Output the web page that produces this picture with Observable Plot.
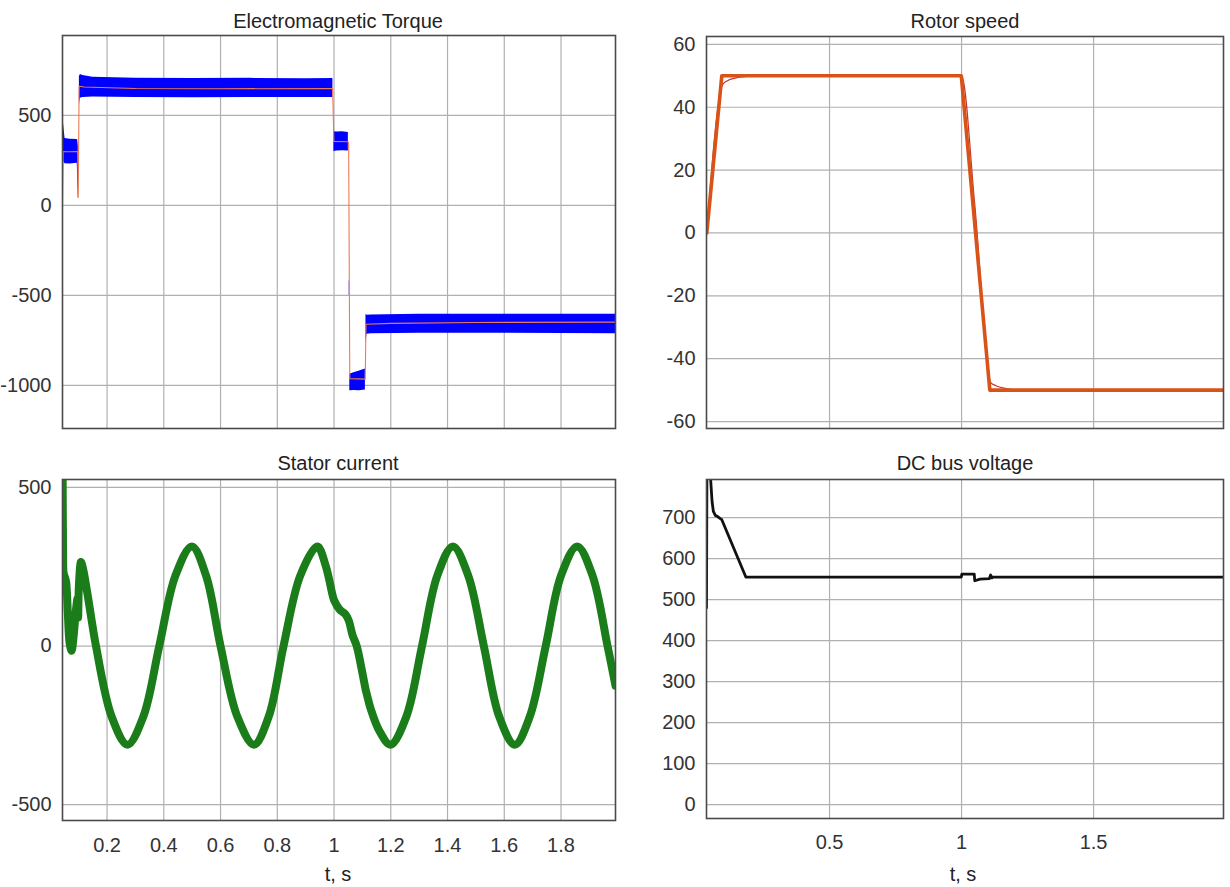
<!DOCTYPE html>
<html><head><meta charset="utf-8">
<script src="https://cdn.jsdelivr.net/npm/d3@7"></script>
<script src="https://cdn.jsdelivr.net/npm/@observablehq/plot@0.6"></script>
<style>
body{margin:0;background:#fff;}
#root{position:relative;width:1230px;height:887px;overflow:hidden;background:#fff;font-family:"Liberation Sans",Arial,Helvetica,sans-serif;color:#262626;}
.lbl{position:absolute;transform:translate(-50%,-50%);white-space:nowrap;font-size:20px;line-height:1.15;color:#222;}
.panel{position:absolute;}
.panel svg{display:block;}
</style></head><body><div id="root"></div>
<script>
// ---------------- data ----------------
// Electromagnetic torque: PWM ripple envelope (null = gap) and mean value
const torqueBandT  = [0.043,0.0433,0.046,0.052,0.070,0.095,0.0965,0.0985,0.0995,0.100,
                      0.1025,0.106,0.115,0.15,0.3,0.5,0.7,0.9,0.996,0.997,
                      0.9995,1.01,1.03,1.0505,1.051,
                      1.0528,1.0538,1.054,
                      1.0555,1.07,1.09,1.1105,1.1115,
                      1.1125,1.116,1.13,1.3,1.6,1.992];
const torqueBandLo = [0,0,245,232,230,235,150,40,40,null,
                      560,595,600,602,600,598,600,600,600,null,
                      300,302,304,303,null,
                      -500,-500,null,
                      -1030,-1028,-1030,-1025,null,
                      -775,-715,-712,-710,-710,-712];
const torqueBandHi = [10,480,465,372,368,366,362,330,120,null,
                      715,728,722,712,706,705,706,704,705,null,
                      410,408,410,405,null,
                      -420,-420,null,
                      -938,-930,-920,-908,null,
                      -605,-610,-608,-604,-605,-604];
const torqueMeanT = [0.043,0.0455,0.06,0.097,0.0985,0.1015,0.12,0.3,0.6,0.995,0.9995,1.05,1.0515,1.0555,1.11,1.1125,1.2,1.5,1.992];
const torqueMean  = [0,300,298,300,45,662,658,650,648,650,356,354,350,-962,-965,-660,-655,-650,-648];

// Rotor speed: reference (thick) and measured (thin)
const speedRefT = [0.035,0.092,0.999,1.107,1.995];
const speedRef  = [0,50,50,-50,-50];
const speedActT = [0.035,0.094,0.11,0.15,0.2,0.24,1.0,1.05,1.11,1.13,1.17,1.21,1.995];
const speedAct  = [0,47,48.3,49.4,49.9,50,50,9,-47.5,-48.6,-49.5,-50,-50];

// Stator current (centre of the ripple band)
const currentT = [0.043,0.0435,0.045,0.047,0.052,0.056,0.062,0.068,0.075,0.082,0.09,0.096,0.098,0.100,0.105,0.108,0.115,0.13,0.145,0.161,
                  0.216,0.272,0.328,0.384,0.441,0.499,0.549,0.600,0.659,0.718,0.770,0.822,0.881,0.941,
                  0.97,0.995,1.0,1.02,1.04,1.052,1.065,1.08,1.10,1.112,1.115,1.13,1.16,1.199,
                  1.255,1.31,1.364,1.419,1.473,1.528,1.582,1.637,1.69,1.746,1.80,1.857,1.911,1.964,1.992];
const current  = [250,540,300,230,215,200,100,10,-15,30,110,150,90,170,250,265,245,170,85,0,
                  -222,-311,-222,0,222,314,222,0,-222,-311,-222,0,222,314,
                  255,160,145,115,100,80,35,0,-85,-140,-150,-200,-268,-311,
                  -222,0,222,314,222,0,-222,-311,-222,0,222,314,222,0,-125];

// DC bus voltage
const dcT = [0.034,0.036,0.045,0.050,0.055,0.060,0.068,0.075,0.085,0.092,0.183,0.5,0.999,1.001,1.048,1.050,1.07,1.105,1.11,1.115,1.12,1.995];
const dcV = [480,900,850,790,740,715,705,703,698,695,555,555,555,562,562,546,550,551,560,553,555,555];

// tick values
const xTicksFine   = [0.2,0.4,0.6,0.8,1,1.2,1.4,1.6,1.8];
const xTicksCoarse = [0.5,1,1.5];
const torqueTicks  = [-1000,-500,0,500];
const speedTicks   = [-60,-40,-20,0,20,40,60];
const currentTicks = [-500,0,500];
const dcTicks      = [0,100,200,300,400,500,600,700];

// ---------------- drawing ----------------
const FONT = '"Liberation Sans", Arial, Helvetica, sans-serif';
const GRID = "#b0b0b0";
const FRAME = "#4a4a4a";
const TICKC = "#333";
const fmt = d => String(d);
const root = document.getElementById("root");

function label(text, cx, cy) {
  const d = document.createElement("div");
  d.className = "lbl";
  d.textContent = text;
  d.style.left = cx + "px";
  d.style.top = cy + "px";
  root.appendChild(d);
}

function panel(o) {
  const svg = Plot.plot({
    width: o.width, height: o.height,
    marginLeft: o.mL, marginRight: o.mR, marginTop: o.mT, marginBottom: o.mB,
    style: {fontFamily: FONT, fontSize: "20px", color: TICKC, background: "transparent", overflow: "visible"},
    x: {domain: o.xDomain, axis: null},
    y: {domain: o.yDomain, axis: null},
    marks: [
      Plot.gridX(o.xTicks, {stroke: GRID, strokeOpacity: 1, strokeWidth: 1.2}),
      Plot.gridY(o.yTicks, {stroke: GRID, strokeOpacity: 1, strokeWidth: 1.2}),
      ...o.marks,
      Plot.frame({stroke: FRAME, strokeWidth: 1.6}),
      Plot.axisY(o.yTicks, {tickSize: 0, tickPadding: 11, tickFormat: fmt, fontSize: 20, fill: TICKC}),
      o.showX ? Plot.axisX(o.xTicks, {tickSize: 0, tickPadding: o.xPad, tickFormat: fmt, fontSize: 20, fill: TICKC}) : null
    ]
  });
  const wrap = document.createElement("div");
  wrap.className = "panel";
  wrap.style.left = o.left + "px";
  wrap.style.top = o.top + "px";
  wrap.appendChild(svg);
  root.appendChild(wrap);
}

const xDomL = [0.043, 1.992];
const xDomR = [0.034, 1.992];

// Electromagnetic Torque
panel({
  left: 0, top: 0, width: 620, height: 440, mL: 62, mR: 5, mT: 35, mB: 12,
  xDomain: xDomL, yDomain: [-1239, 944], xTicks: xTicksFine, yTicks: torqueTicks, showX: false,
  marks: [
    Plot.areaY(torqueBandT, {x: torqueBandT, y1: torqueBandLo, y2: torqueBandHi, fill: "#0000ff", clip: true}),
    Plot.line(torqueMeanT, {x: torqueMeanT, y: torqueMean, stroke: "#ec7a55", strokeWidth: 1.1, clip: true})
  ]
});

// Rotor speed
panel({
  left: 620, top: 0, width: 610, height: 440, mL: 86, mR: 7, mT: 36, mB: 12,
  xDomain: xDomR, yDomain: [-62.2, 62.5], xTicks: xTicksCoarse, yTicks: speedTicks, showX: false,
  marks: [
    Plot.line(speedActT, {x: speedActT, y: speedAct, stroke: "#c0392b", strokeWidth: 1.2, curve: "monotone-x", clip: true}),
    Plot.line(speedRefT, {x: speedRefT, y: speedRef, stroke: "#D95319", strokeWidth: 3.6, strokeLinejoin: "round", clip: true})
  ]
});

// Stator current
panel({
  left: 0, top: 440, width: 620, height: 447, mL: 62, mR: 5, mT: 39, mB: 67,
  xDomain: xDomL, yDomain: [-550, 525], xTicks: xTicksFine, yTicks: currentTicks, showX: true, xPad: 17,
  marks: [
    Plot.line(currentT, {x: currentT, y: current, stroke: "#1a7d1a", strokeWidth: 8, curve: "catmull-rom", strokeLinejoin: "round", clip: true})
  ]
});

// DC bus voltage
panel({
  left: 620, top: 440, width: 610, height: 447, mL: 86, mR: 7, mT: 39, mB: 69,
  xDomain: xDomR, yDomain: [-34, 793], xTicks: xTicksCoarse, yTicks: dcTicks, showX: true, xPad: 16,
  marks: [
    Plot.line(dcT, {x: dcT, y: dcV, stroke: "#111", strokeWidth: 2.8, strokeLinejoin: "round", clip: true})
  ]
});

label("Electromagnetic Torque", 338, 21);
label("Rotor speed", 965, 21);
label("Stator current", 338, 463);
label("DC bus voltage", 965, 463);
label("t, s", 338, 874);
label("t, s", 963, 874);
</script></body></html>
